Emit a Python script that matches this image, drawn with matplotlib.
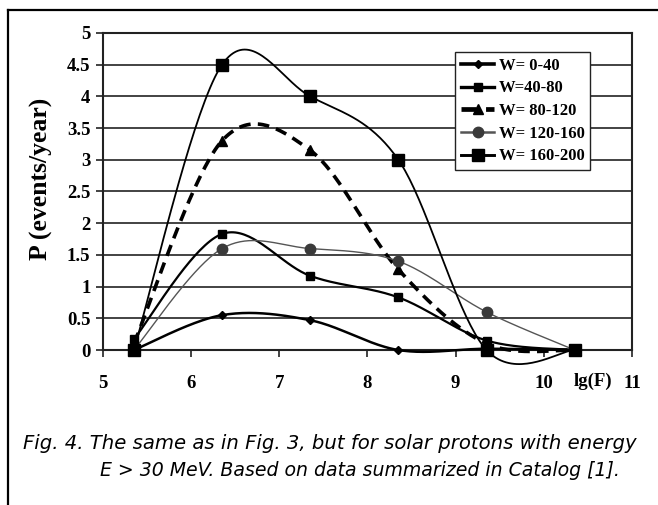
import numpy as np
import matplotlib
matplotlib.use("Agg")
import matplotlib.pyplot as plt
from matplotlib.lines import Line2D

# data
lgF = [5.35, 6.35, 7.35, 8.35, 9.35, 10.35]
w_0_40 = [0.0, 0.55, 0.47, 0.0, 0.02, 0.0]
w_40_80 = [0.17, 1.83, 1.17, 0.83, 0.15, 0.0]
w_80_120 = [0.1, 3.3, 3.15, 1.27, 0.1, 0.0]
w_120_160 = [0.0, 1.6, 1.6, 1.4, 0.6, 0.0]
w_160_200 = [0.0, 4.5, 4.0, 3.0, 0.0, 0.0]
etiquetas = ["W= 0-40", "W=40-80", "W= 80-120", "W= 120-160", "W= 160-200"]
xticks = [5, 6, 7, 8, 9, 10, 11]
yticks = [0, 0.5, 1, 1.5, 2, 2.5, 3, 3.5, 4, 4.5, 5]


def suavizar(xs, ys, n=40):
    # curva suave tipo Excel (Catmull-Rom con Bezier)
    p = np.column_stack([xs, ys]).astype(float)
    p = np.vstack([p[0], p, p[-1]])
    puntos = []
    for i in range(1, len(p) - 2):
        p0, p1, p2, p3 = p[i - 1], p[i], p[i + 1], p[i + 2]
        c1 = p1 + (p2 - p0) / 6
        c2 = p2 - (p3 - p1) / 6
        t = np.linspace(0, 1, n)[:, None]
        b = ((1 - t) ** 3) * p1 + 3 * ((1 - t) ** 2) * t * c1 + 3 * (1 - t) * t ** 2 * c2 + t ** 3 * p2
        puntos.append(b)
    b = np.vstack(puntos)
    return b[:, 0], b[:, 1]


fig = plt.figure(figsize=(6.58, 5.05), dpi=100)
ax = fig.add_axes([0.1565, 0.3069, 0.8040, 0.6278])

serif = {"family": "Liberation Serif", "weight": "bold"}

for y in yticks:
    ax.axhline(y, color="#222222", lw=1.2, zorder=1)

estilos = [
    dict(data=w_0_40, color="black", lw=1.8, ls="-", marker="D", ms=4, mc="black"),
    dict(data=w_40_80, color="black", lw=1.6, ls="-", marker="s", ms=5.5, mc="black"),
    dict(data=w_80_120, color="black", lw=2.6, ls=(0, (3.2, 2.0)), marker="^", ms=7.5, mc="black"),
    dict(data=w_120_160, color="#555555", lw=1.0, ls="-", marker="o", ms=7.5, mc="#3a3a3a"),
    dict(data=w_160_200, color="black", lw=1.3, ls="-", marker="s", ms=9, mc="black"),
]

handles = []
for est, nombre in zip(estilos, etiquetas):
    sx, sy = suavizar(lgF, est["data"])
    ax.plot(sx, sy, color=est["color"], lw=est["lw"], ls=est["ls"], zorder=3, clip_on=False)
    ax.plot(lgF, est["data"], ls="none", marker=est["marker"], ms=est["ms"],
            color=est["mc"], zorder=4, clip_on=False)
    handles.append(Line2D([], [], color=est["color"], lw=est["lw"] + 0.8, ls=est["ls"],
                          marker=est["marker"], ms=est["ms"], markerfacecolor=est["mc"],
                          markeredgecolor=est["mc"]))

ax.set_xlim(5, 11)
ax.set_ylim(0, 5)
ax.set_xticks(xticks)
ax.set_yticks(yticks)
ax.set_yticklabels(["0", "0.5", "1", "1.5", "2", "2.5", "3", "3.5", "4", "4.5", "5"])
for lab in ax.get_xticklabels() + ax.get_yticklabels():
    lab.set_fontfamily("Liberation Serif")
    lab.set_fontweight("bold")
    lab.set_fontsize(13.5)
ax.tick_params(axis="x", direction="out", length=5, width=1.2, pad=13, colors="#222222", labelcolor="black")
ax.tick_params(axis="y", direction="out", length=5, width=1.2, pad=4, colors="#222222", labelcolor="black")
for lado in ["left", "right", "top", "bottom"]:
    ax.spines[lado].set_color("#222222")
    ax.spines[lado].set_linewidth(1.5)

ax.set_ylabel("P (events/year)", fontsize=18.5, **serif)
ax.yaxis.set_label_coords(-0.094, 0.54)
ax.text(10.56, -0.5, "lg(F)", ha="center", va="center", fontsize=13.5, **serif)

leg = ax.legend(handles, etiquetas, loc="upper right", bbox_to_anchor=(0.921, 0.94),
                prop={"family": "Liberation Serif", "weight": "bold", "size": 12},
                frameon=True, fancybox=False, framealpha=1, edgecolor="#222222",
                handlelength=2.0, handletextpad=0.25, borderpad=0.35, labelspacing=0.4,
                borderaxespad=0)
leg.get_frame().set_linewidth(1.0)
leg.set_zorder(5)

# marco de la figura
fig.add_artist(Line2D([0.012, 1.0], [0.981, 0.981], color="black", lw=1.6))
fig.add_artist(Line2D([0.012, 0.012], [0.0, 0.981], color="black", lw=1.6))

fig.text(0.035, 0.122, "Fig. 4. The same as in Fig. 3, but for solar protons with energy",
         fontsize=14.1, style="italic", family="DejaVu Sans", ha="left", va="center")
fig.text(0.152, 0.069, "E > 30 MeV. Based on data summarized in Catalog [1].",
         fontsize=13.6, style="italic", family="DejaVu Sans", ha="left", va="center")

fig.savefig("out.png", dpi=100)
